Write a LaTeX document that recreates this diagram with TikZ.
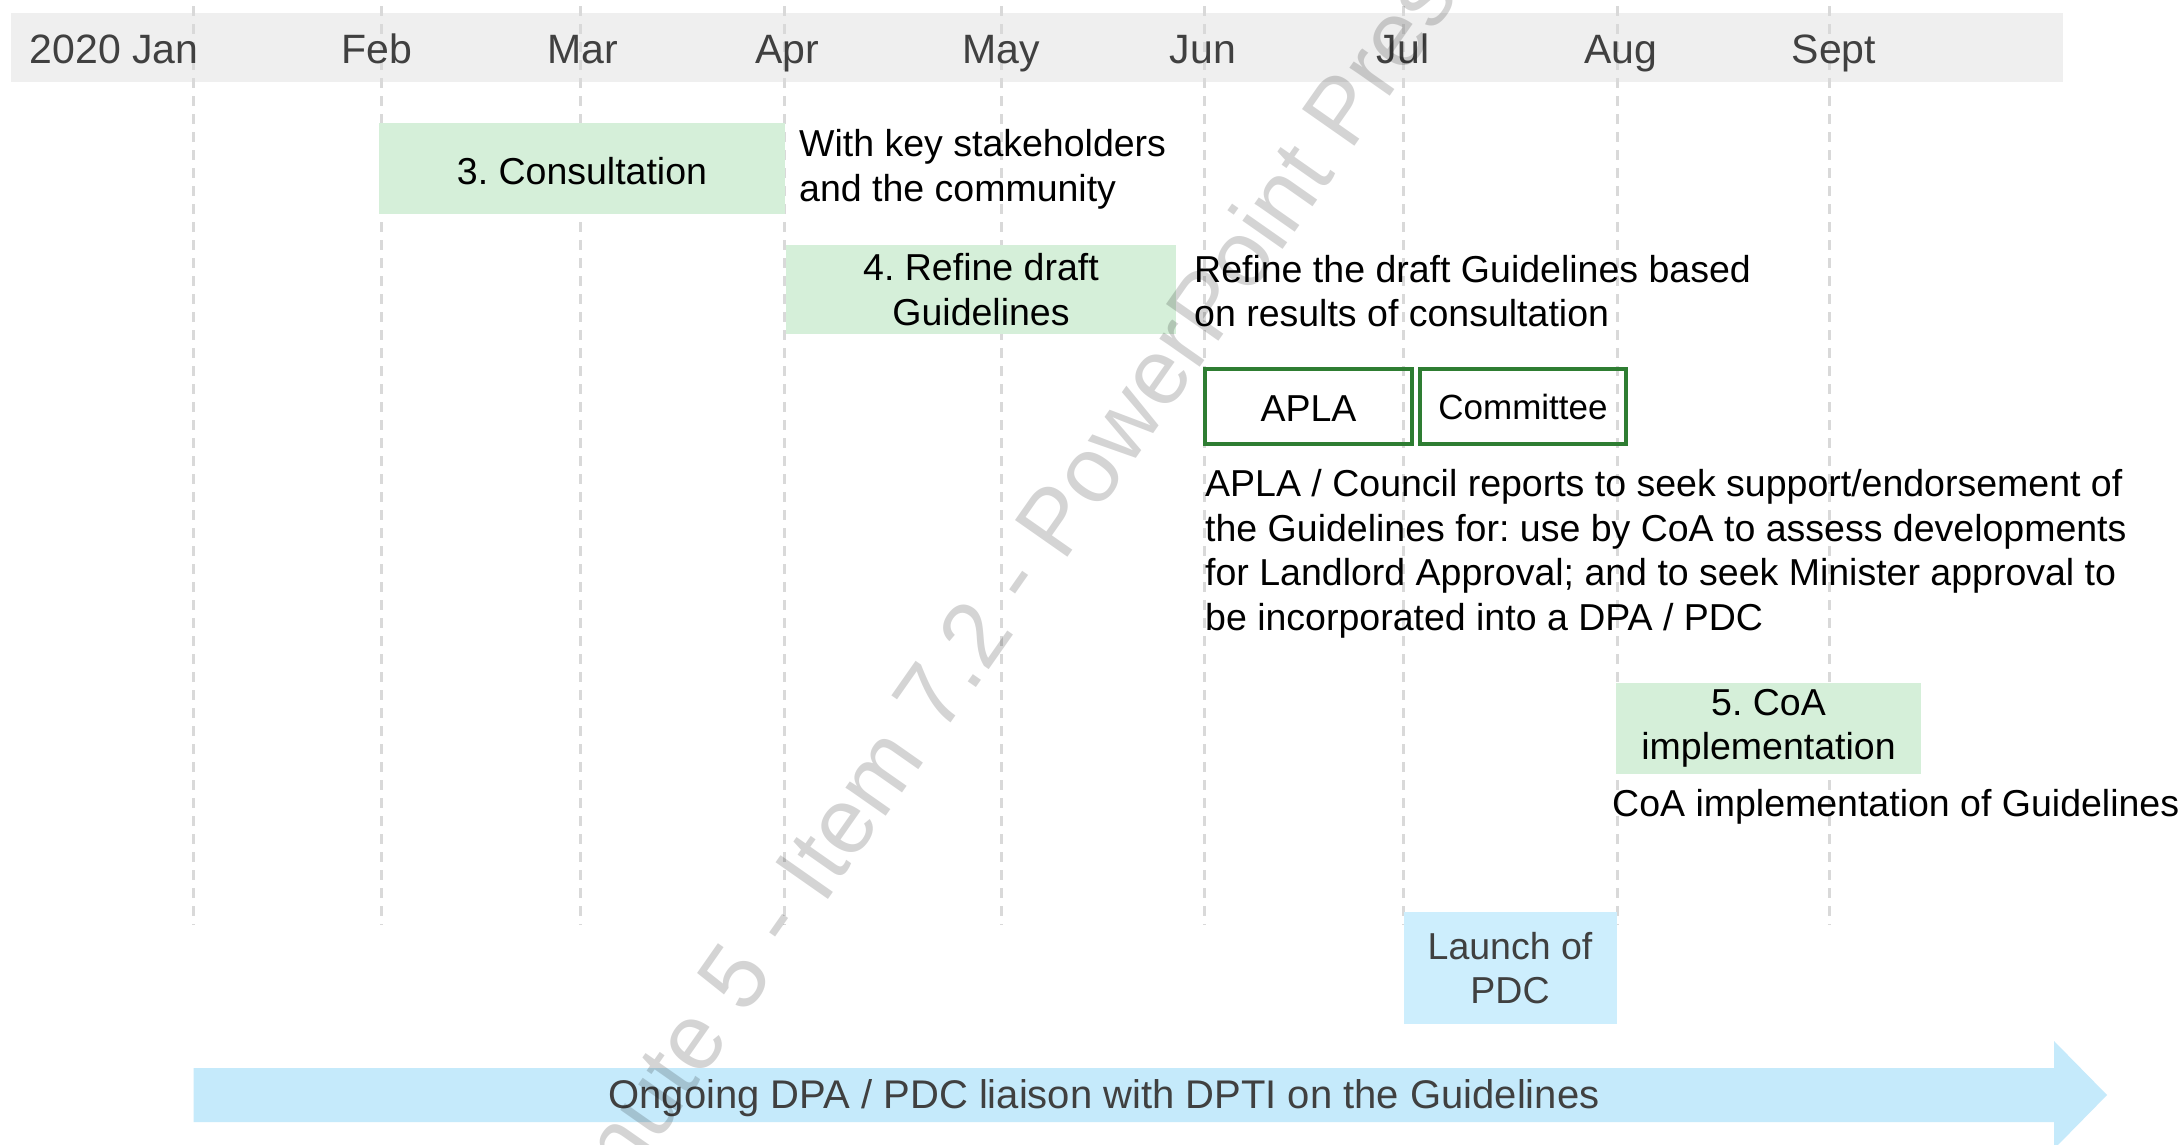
\documentclass[tikz,border=0pt]{standalone}
\usepackage{fontspec}
\setmainfont{Liberation Sans}
\frenchspacing
\definecolor{barbg}{HTML}{EFEFEF}
\definecolor{dashgray}{HTML}{D9D9D9}
\definecolor{gfill}{HTML}{D5EFD9}
\definecolor{gline}{HTML}{2E7D32}
\definecolor{lblue}{HTML}{CDEEFD}
\definecolor{ablue}{HTML}{C5EAFB}
\definecolor{dgray}{HTML}{404040}
\begin{document}
\begin{tikzpicture}[x=1pt,y=-1pt,
  body/.style={inner sep=0pt, font=\frenchspacing\fontsize{37.5}{44.5}\selectfont, align=left, text=black},
  month/.style={inner sep=0pt, anchor=base, font=\fontsize{41}{48}\selectfont, text=dgray},
  gbox/.style={fill=gfill, draw=none, inner sep=0pt, align=center, font=\frenchspacing\fontsize{37.5}{44.5}\selectfont, text=black},
  obox/.style={draw=gline, line width=4pt, fill=none, inner sep=0pt, font=\fontsize{37.5}{44.5}\selectfont, text=black},
  bbox/.style={fill=lblue, draw=none, inner sep=0pt, align=center, font=\fontsize{37.5}{44.5}\selectfont, text=dgray},
  grid/.style={draw=dashgray, line width=3pt, dash pattern=on 10pt off 8pt},
  wmark/.style={inner sep=0pt, font=\fontsize{93}{100}\selectfont, text=black, text opacity=0.17}]
\useasboundingbox (0,0) rectangle (2183,1144);
\clip (0,0) rectangle (2183,1144);
\fill[white] (0,0) rectangle (2183,1144);
% top bar
\fill[barbg] (11,12.5) rectangle (2063,82);
% dashed month lines
\foreach \x in {193.5,381,580.5,784,1001,1204,1403,1617.5,1829}{
  \draw[grid] (\x,6) -- (\x,925);
}
% month labels
\node[month] (m0) at (114,63) {2020 Jan};
\node[month] (m1) at (377,63) {Feb};
\node[month] (m2) at (583,63) {Mar};
\node[month] (m3) at (787,63) {Apr};
\node[month] (m4) at (1001,63) {May};
\node[month] (m5) at (1203,63) {Jun};
\node[month] (m6) at (1403,63) {Jul};
\node[month] (m7) at (1621,63) {Aug};
\node[month] (m8) at (1834,63) {Sept};
% boxes
\node[gbox, minimum width=406pt, minimum height=91pt, text height=32pt, text depth=0pt] (cons) at (582,168) {3. Consultation};
\node[body, anchor=west] (consd) at (799,169.5) {With key stakeholders\\and the community};
\node[gbox, minimum width=390pt, minimum height=89pt] (refine) at (981,289.5) {4. Refine draft\\Guidelines};
\node[body, anchor=west] (refined) at (1194,291) {Refine the draft Guidelines based\\on results of consultation};
\node[obox, minimum width=207pt, minimum height=75pt, text height=29pt, text depth=0pt] (apla) at (1308.5,406.5) {APLA};
\node[obox, minimum width=206pt, minimum height=75pt, font=\fontsize{35}{42}\selectfont] (comm) at (1523,406.5) {Committee};
\node[body, anchor=west] (aplad) at (1205,554) {APLA / Council reports to seek support/endorsement of\\the Guidelines for: use by CoA to assess developments\\for Landlord Approval; and to seek Minister approval to\\be incorporated into a DPA / PDC};
\node[gbox, minimum width=305pt, minimum height=91pt] (coa) at (1768.5,728.5) {5. CoA\\implementation};
\node[body, anchor=west] (coad) at (1612,807) {CoA implementation of Guidelines};
\node[bbox, minimum width=213pt, minimum height=112pt] (launch) at (1510,968) {Launch of\\PDC};
% ongoing arrow
\fill[ablue] (193.5,1068) -- (2054,1068) -- (2054,1041) -- (2107,1095) -- (2054,1149) -- (2054,1122) -- (193.5,1122) -- cycle;
\node[body, text=dgray, font=\fontsize{40}{48}\selectfont] (ongoing) at (1104,1098) {Ongoing DPA / PDC liaison with DPTI on the Guidelines};
% watermark
\node[wmark, rotate=55, anchor=base west] (wm) at (571,1266) {Minute 5 - Item 7.2 - PowerPoint Presentation};
\end{tikzpicture}
\end{document}
